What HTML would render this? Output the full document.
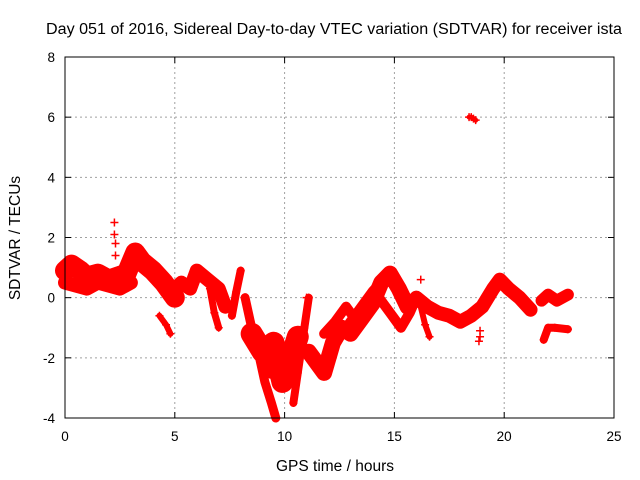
<!DOCTYPE html>
<html><head><meta charset="utf-8"><style>
body{margin:0;background:#fff}
svg{display:block;font-family:"Liberation Sans",sans-serif}
</style></head><body>
<svg id="chart" width="640" height="480" viewBox="0 0 640 480">
<rect width="640" height="480" fill="#fff"/>
<text x="46" y="34" font-size="15.5" textLength="576" lengthAdjust="spacingAndGlyphs">Day 051 of 2016, Sidereal Day-to-day VTEC variation (SDTVAR) for receiver ista</text>
<text x="335" y="471" font-size="15.5" text-anchor="middle">GPS time / hours</text>
<text x="20" y="238" font-size="15.5" text-anchor="middle" transform="rotate(-90 20 238)">SDTVAR / TECUs</text>
<g id="grid"></g>
<g id="marks"></g>
<rect x="65" y="57" width="549" height="361" fill="none" stroke="#000" stroke-width="1"/>
<g id="ticks"></g>
</svg>
<script>
const xTicks=[0,5,10,15,20,25];
const yTicks=[-4,-2,0,2,4,6,8];
// tracks: times (hours) and SDTVAR values
const tA=[0,0.3,0.7,1.0,1.5,2.0,2.4,2.8,3.2,3.5,4.0,4.5,5.0];
const vA=[0.9,1.1,0.9,0.7,0.8,0.6,0.7,0.8,1.5,1.2,0.9,0.5,0.0];
const tA2=[0,0.5,1,1.5,2,2.5,3];
const vA2=[0.5,0.4,0.3,0.5,0.4,0.3,0.5];
const tB=[4.3,4.6,4.8];
const vB=[-0.6,-0.9,-1.2];
const tC=[5,5.3,5.7,6.0,6.5,7.0,7.3];
const vC=[0.3,0.5,0.3,0.9,0.6,0.3,-0.3];
const tC2=[6.6,6.8,7.0];
const vC2=[0.3,-0.5,-1.0];
const tD=[7.6,7.8,8.0];
const vD=[-0.6,0.2,0.9];
const tE=[8.2,8.5,8.8,9.1,9.4,9.6];
const vE=[0.0,-1.0,-1.8,-2.8,-3.5,-4.0];
const tF=[8.5,9.0,9.5,9.9,10.3,10.6];
const vF=[-1.2,-1.8,-1.5,-2.8,-2.0,-1.3];
const tF2=[9.0,9.4,9.8,10.2];
const vF2=[-2.0,-2.5,-2.2,-2.8];
const tG=[10.4,10.6,10.9,11.1];
const vG=[-3.5,-2.5,-1.0,0.0];
const tH=[11.1,11.5,11.8,12.2,12.6,13,13.5,14,14.4,14.8,15.2,15.6];
const vH=[-1.8,-2.2,-2.5,-1.5,-1.0,-1.2,-0.7,-0.2,0.5,0.8,0.3,-0.3];
const tH2=[12.0,12.5,13.0,13.5,14.0,14.5];
const vH2=[-1.8,-1.3,-0.8,-0.3,0.2,0.6];
const tI=[11.8,12.3,12.8,13.3,13.8,14.3,14.8,15.3,15.7,16];
const vI=[-1.2,-0.8,-0.3,-0.8,-0.4,0.0,-0.5,-1.0,-0.5,0.0];
const tJ=[15.6,16.0,16.5,17.0,17.5,18.0,18.5,19.0,19.5,19.8,20.2,20.7,21.2];
const vJ=[-0.3,0.0,-0.3,-0.5,-0.6,-0.8,-0.6,-0.3,0.3,0.6,0.3,0.0,-0.4];
const tJ2=[16.2,16.4,16.6];
const vJ2=[-0.3,-0.9,-1.3];
const tK=[21.7,22.0,22.4,22.9];
const vK=[-0.1,0.1,-0.1,0.1];
const tK2=[21.8,22.0,22.3,22.9];
const vK2=[-1.4,-1.0,-1.0,-1.05];
const tL=[18.4,18.5,18.6,18.7];
const vL=[6.0,6.0,5.95,5.9];
const tP=[2.25,2.25,2.3,2.3,18.9,18.9,18.85,16.2,11.0];
const vP=[2.5,2.1,1.8,1.4,-1.1,-1.3,-1.45,0.6,0.0];

const X0=65,X1=614,Y0=418,Y1=57;
const sx=t=>X0+(t-0)/(25-0)*(X1-X0);
const sy=v=>Y0-(v-(-4))/(8-(-4))*(Y0-Y1);
const NS='http://www.w3.org/2000/svg';
const grid=document.getElementById('grid'),ticks=document.getElementById('ticks'),marks=document.getElementById('marks');
function mk(tag,attrs,parent){const e=document.createElementNS(NS,tag);for(const k in attrs)e.setAttribute(k,attrs[k]);parent.appendChild(e);return e;}
xTicks.forEach(t=>{
  const x=sx(t);
  if(t>0&&t<25){const g=mk('line',{x1:x,x2:x,y1:Y1,y2:Y0,stroke:'#a0a0a0','stroke-dasharray':'2,3'},grid);
  
  }
  mk('line',{x1:x,x2:x,y1:Y0,y2:Y0-6,stroke:'#000'},ticks);
  mk('line',{x1:x,x2:x,y1:Y1,y2:Y1+6,stroke:'#000'},ticks);
  const l=mk('text',{x:x,y:Y0+23,'font-size':13.5,'text-anchor':'middle'},ticks);l.textContent=t;
  
  
});
yTicks.forEach(v=>{
  const y=sy(v);
  if(v>-4&&v<8){const g=mk('line',{x1:X0,x2:X1,y1:y,y2:y,stroke:'#a0a0a0','stroke-dasharray':'2,3'},grid);
  
  }
  mk('line',{x1:X0,x2:X0+6,y1:y,y2:y,stroke:'#000'},ticks);
  mk('line',{x1:X1,x2:X1-6,y1:y,y2:y,stroke:'#000'},ticks);
  const l=mk('text',{x:X0-10,y:y+5,'font-size':13.5,'text-anchor':'end'},ticks);l.textContent=v;
  
  
});
function plus(t,v){
  const x=sx(t),y=sy(v);
  const p=mk('path',{d:`M${x-4},${y}H${x+4}M${x},${y-4}V${y+4}`,stroke:'#f00','stroke-width':1.5,fill:'none'},marks);
  
  
}
function track(ts,vs,w){
  const pts=ts.map((t,i)=>sx(t)+','+sy(vs[i])).join(' ');
  const pl=mk('polyline',{points:pts,fill:'none',stroke:'#f00','stroke-width':w,'stroke-linejoin':'round','stroke-linecap':'round'},marks);
  
  
  ts.forEach((t,i)=>plus(t,vs[i]));
}
track(tA,vA,20);track(tA2,vA2,14);track(tB,vB,6);track(tC,vC,14);track(tC2,vC2,7);
track(tD,vD,8);track(tE,vE,9);track(tF,vF,22);track(tF2,vF2,12);track(tG,vG,8);track(tH,vH,16);
track(tH2,vH2,10);track(tI,vI,10);track(tJ,vJ,14);track(tJ2,vJ2,6);track(tK,vK,12);track(tK2,vK2,8);track(tL,vL,5);
tP.forEach((t,i)=>plus(t,vP[i]));
</script>
</body></html>
